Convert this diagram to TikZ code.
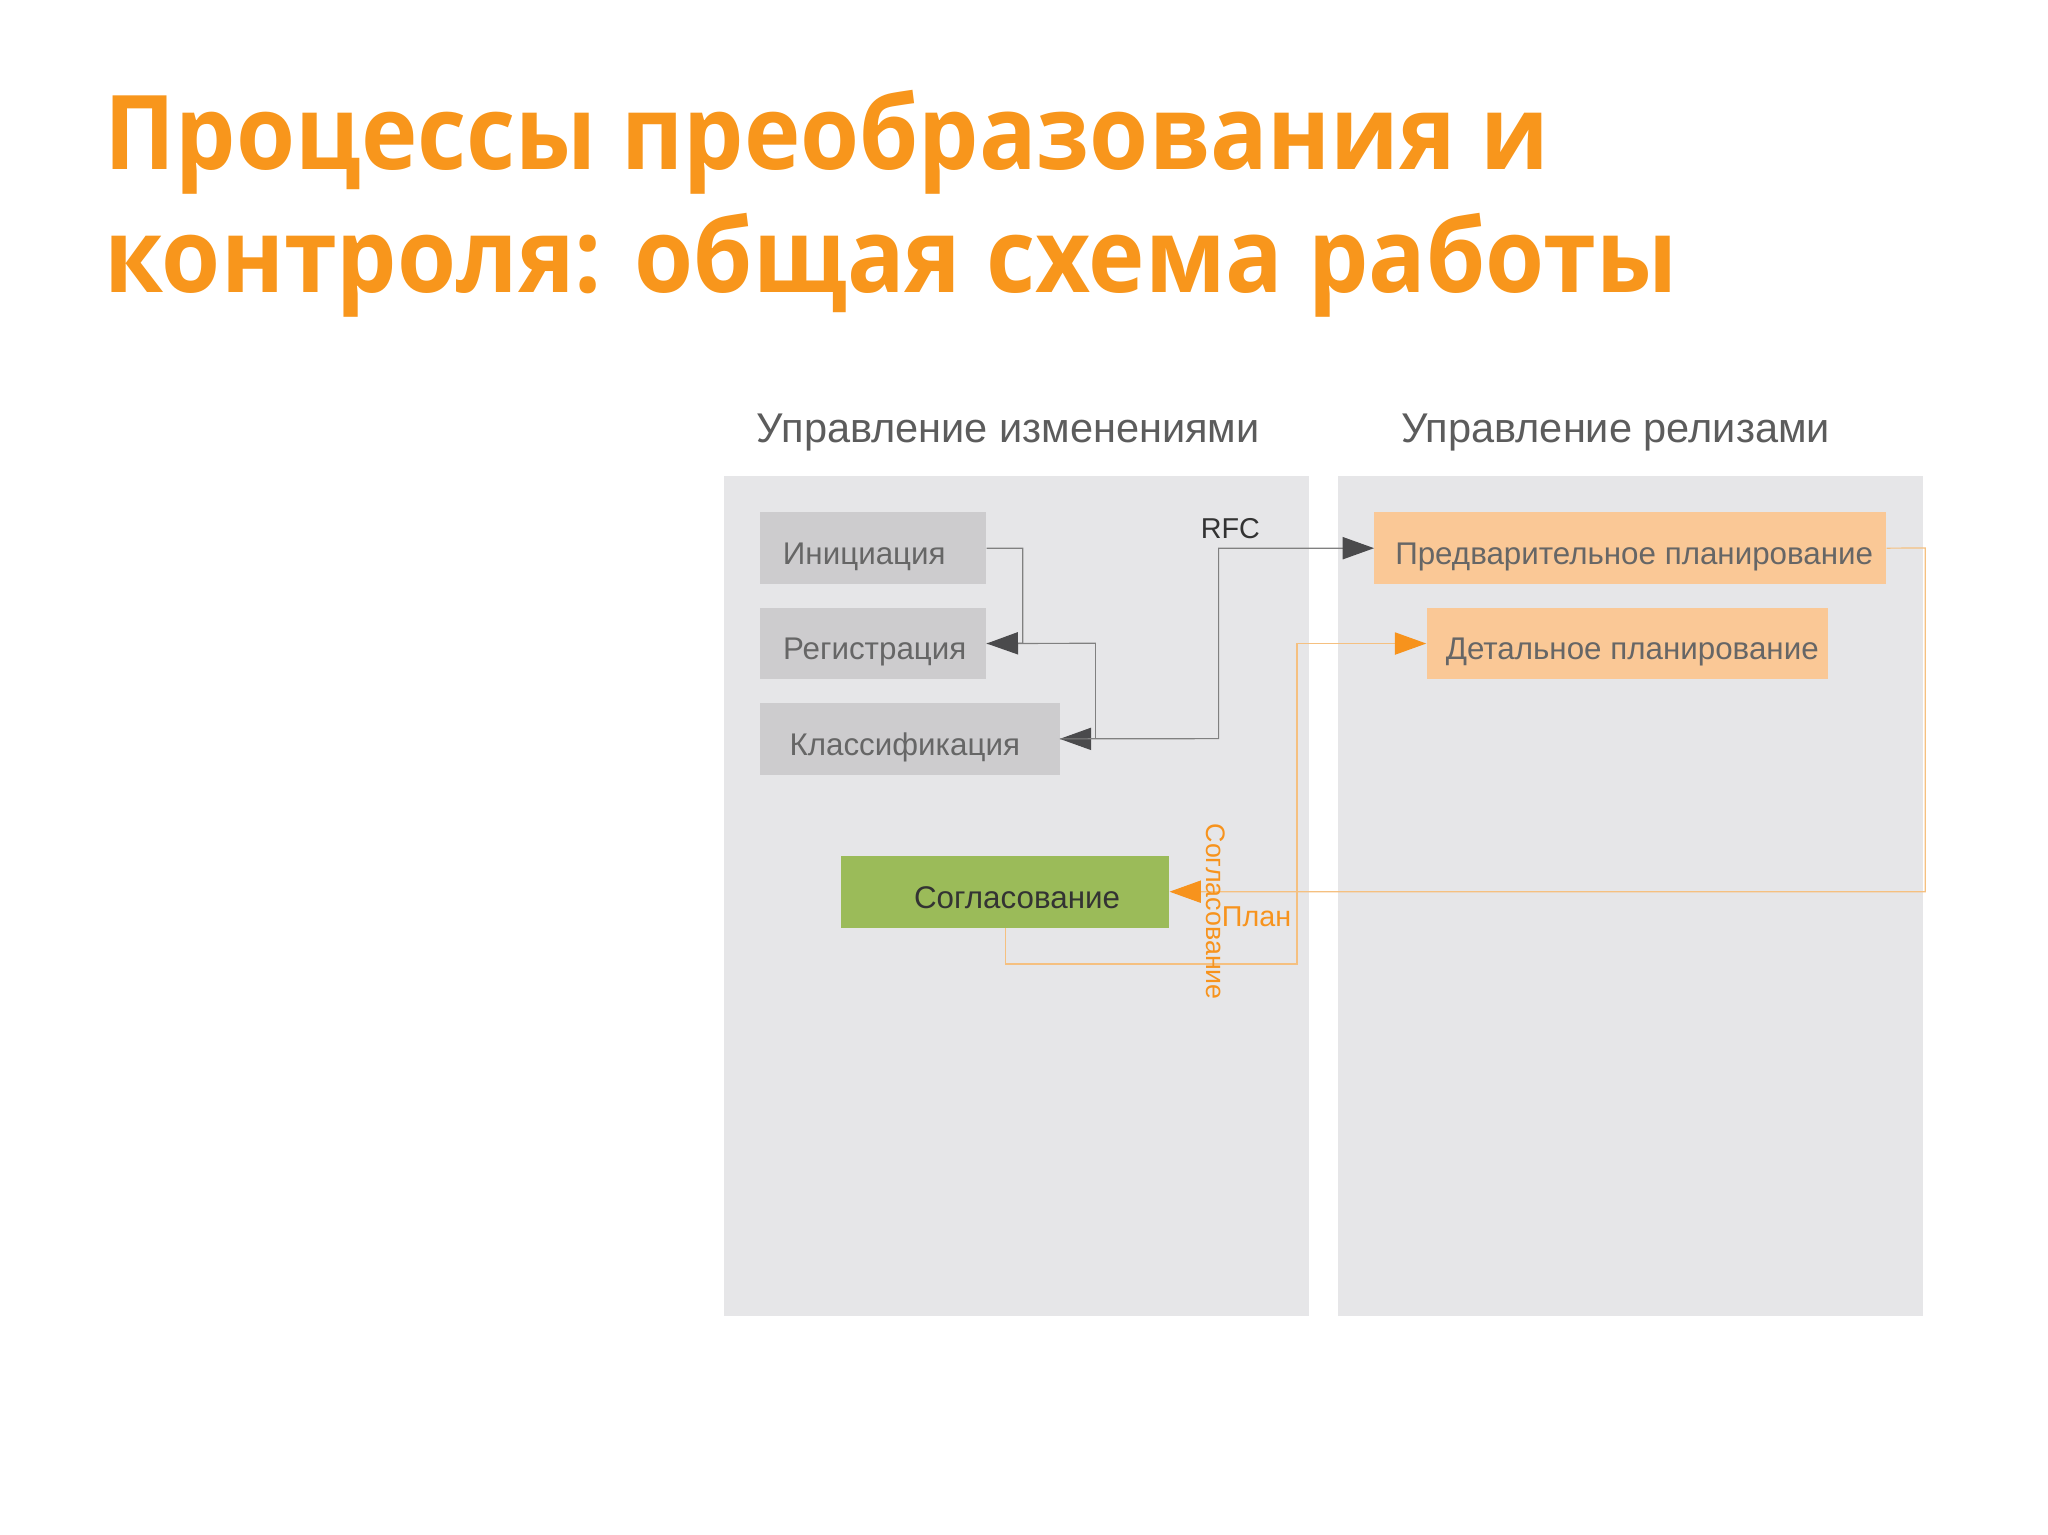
\documentclass[tikz,border=0pt]{standalone}
\usepackage{fontspec}
\setmainfont{Liberation Sans}
\newfontfamily\titlefont[FakeStretch=0.925]{Open Sans}
\usetikzlibrary{arrows.meta}
\definecolor{ttl}{HTML}{F8961C}
\definecolor{panel}{HTML}{E6E6E8}
\definecolor{gbox}{HTML}{CDCCCE}
\definecolor{gtext}{HTML}{666666}
\definecolor{htext}{HTML}{5C5C5C}
\definecolor{green}{HTML}{9BBB59}
\definecolor{peach}{HTML}{FAC896}
\definecolor{oline}{HTML}{F5C080}
\definecolor{oarrow}{HTML}{F7931D}
\definecolor{gline}{HTML}{808080}
\definecolor{garrow}{HTML}{4A4A4C}
\tikzset{
  panelbox/.style={fill=panel, draw=none, anchor=north west, inner sep=0pt},
  boxbase/.style={draw=none, anchor=north west, inner sep=0pt, text height=25pt, text depth=0pt, font=\fontsize{24}{28}\selectfont},
  graybox/.style={boxbase, fill=gbox, text=gtext},
  peachbox/.style={boxbase, fill=peach, text=gtext},
  greenbox/.style={boxbase, fill=green, text=black!80},
  header/.style={anchor=base, text=htext, font=\fontsize{31.8}{36}\selectfont},
  titletext/.style={anchor=base west, text=ttl, inner sep=0pt, font=\titlefont\bfseries\fontsize{79}{90}\selectfont},
  gconn/.style={draw=gline, line width=0.9pt, -{Triangle[length=24pt,width=17pt,fill=garrow,color=garrow]}},
  gplain/.style={draw=gline, line width=0.9pt},
  oconn/.style={draw=oline, line width=0.9pt, -{Triangle[length=24pt,width=17pt,fill=oarrow,color=oarrow]}},
  olabel/.style={text=oarrow, font=\fontsize{22}{26}\selectfont},
}
\begin{document}
\begin{tikzpicture}[x=1pt,y=-1pt]
\useasboundingbox[fill=white] (0,0) rectangle (1568,1175);
% title
\node[titletext] (t1) at (80,130) {Процессы преобразования и};
\node[titletext] (t2) at (80,224) {контроля: общая схема работы};
% headers
\node[header] (h1) at (772,339) {Управление изменениями};
\node[header] (h2) at (1237,339) {Управление релизами};
% panels
\node[panelbox, minimum width=448, minimum height=643] (p1) at (554,364) {};
\node[panelbox, minimum width=448, minimum height=643] (p2) at (1024,364) {};
% boxes
\node[graybox, minimum width=173, minimum height=55] (ini) at (582,392) {\hspace*{-14pt}Инициация};
\node[graybox, minimum width=173, minimum height=55] (reg) at (582,465) {\hspace*{2pt}Регистрация};
\node[graybox, minimum width=229, minimum height=55] (cls) at (582,538) {\hspace*{-8pt}Классификация};
\node[greenbox, minimum width=251, minimum height=55] (sog) at (644,655) {\hspace*{18pt}Согласование};
\node[peachbox, minimum width=392, minimum height=55] (pre) at (1052,392) {\hspace*{6pt}Предварительное планирование};
\node[peachbox, minimum width=307, minimum height=55] (det) at (1092,465) {\hspace*{8pt}Детальное планирование};
% gray connectors
\coordinate (j1) at (783,492.5);
\coordinate (j2) at (839,492.5);
\coordinate (j3) at (933,565.5);
\draw[gplain] (reg.east) -- (j2);
\draw[gconn] (j2) |- (cls.east);
\draw[gconn] (ini.east) -| (j1) -- (reg.east);
\draw[gconn] (cls.east) -- (j3) |- (pre.west);
\node[text=black!80, font=\fontsize{22}{26}\selectfont] (rfc) at (942,405) {RFC};
% orange connectors
\coordinate (o1) at (1474,419.5);
\coordinate (o2) at (993,738);
\draw[oconn] (pre.east) -- (o1) |- (sog.east);
\draw[oconn] (sog.south) |- (o2) |- (det.west);
\node[olabel] (plan) at (962,702) {План};
\node[olabel, rotate=-90, font=\fontsize{20.5}{24}\selectfont] (soglbl) at (931,698) {Согласование};
\end{tikzpicture}
\end{document}
